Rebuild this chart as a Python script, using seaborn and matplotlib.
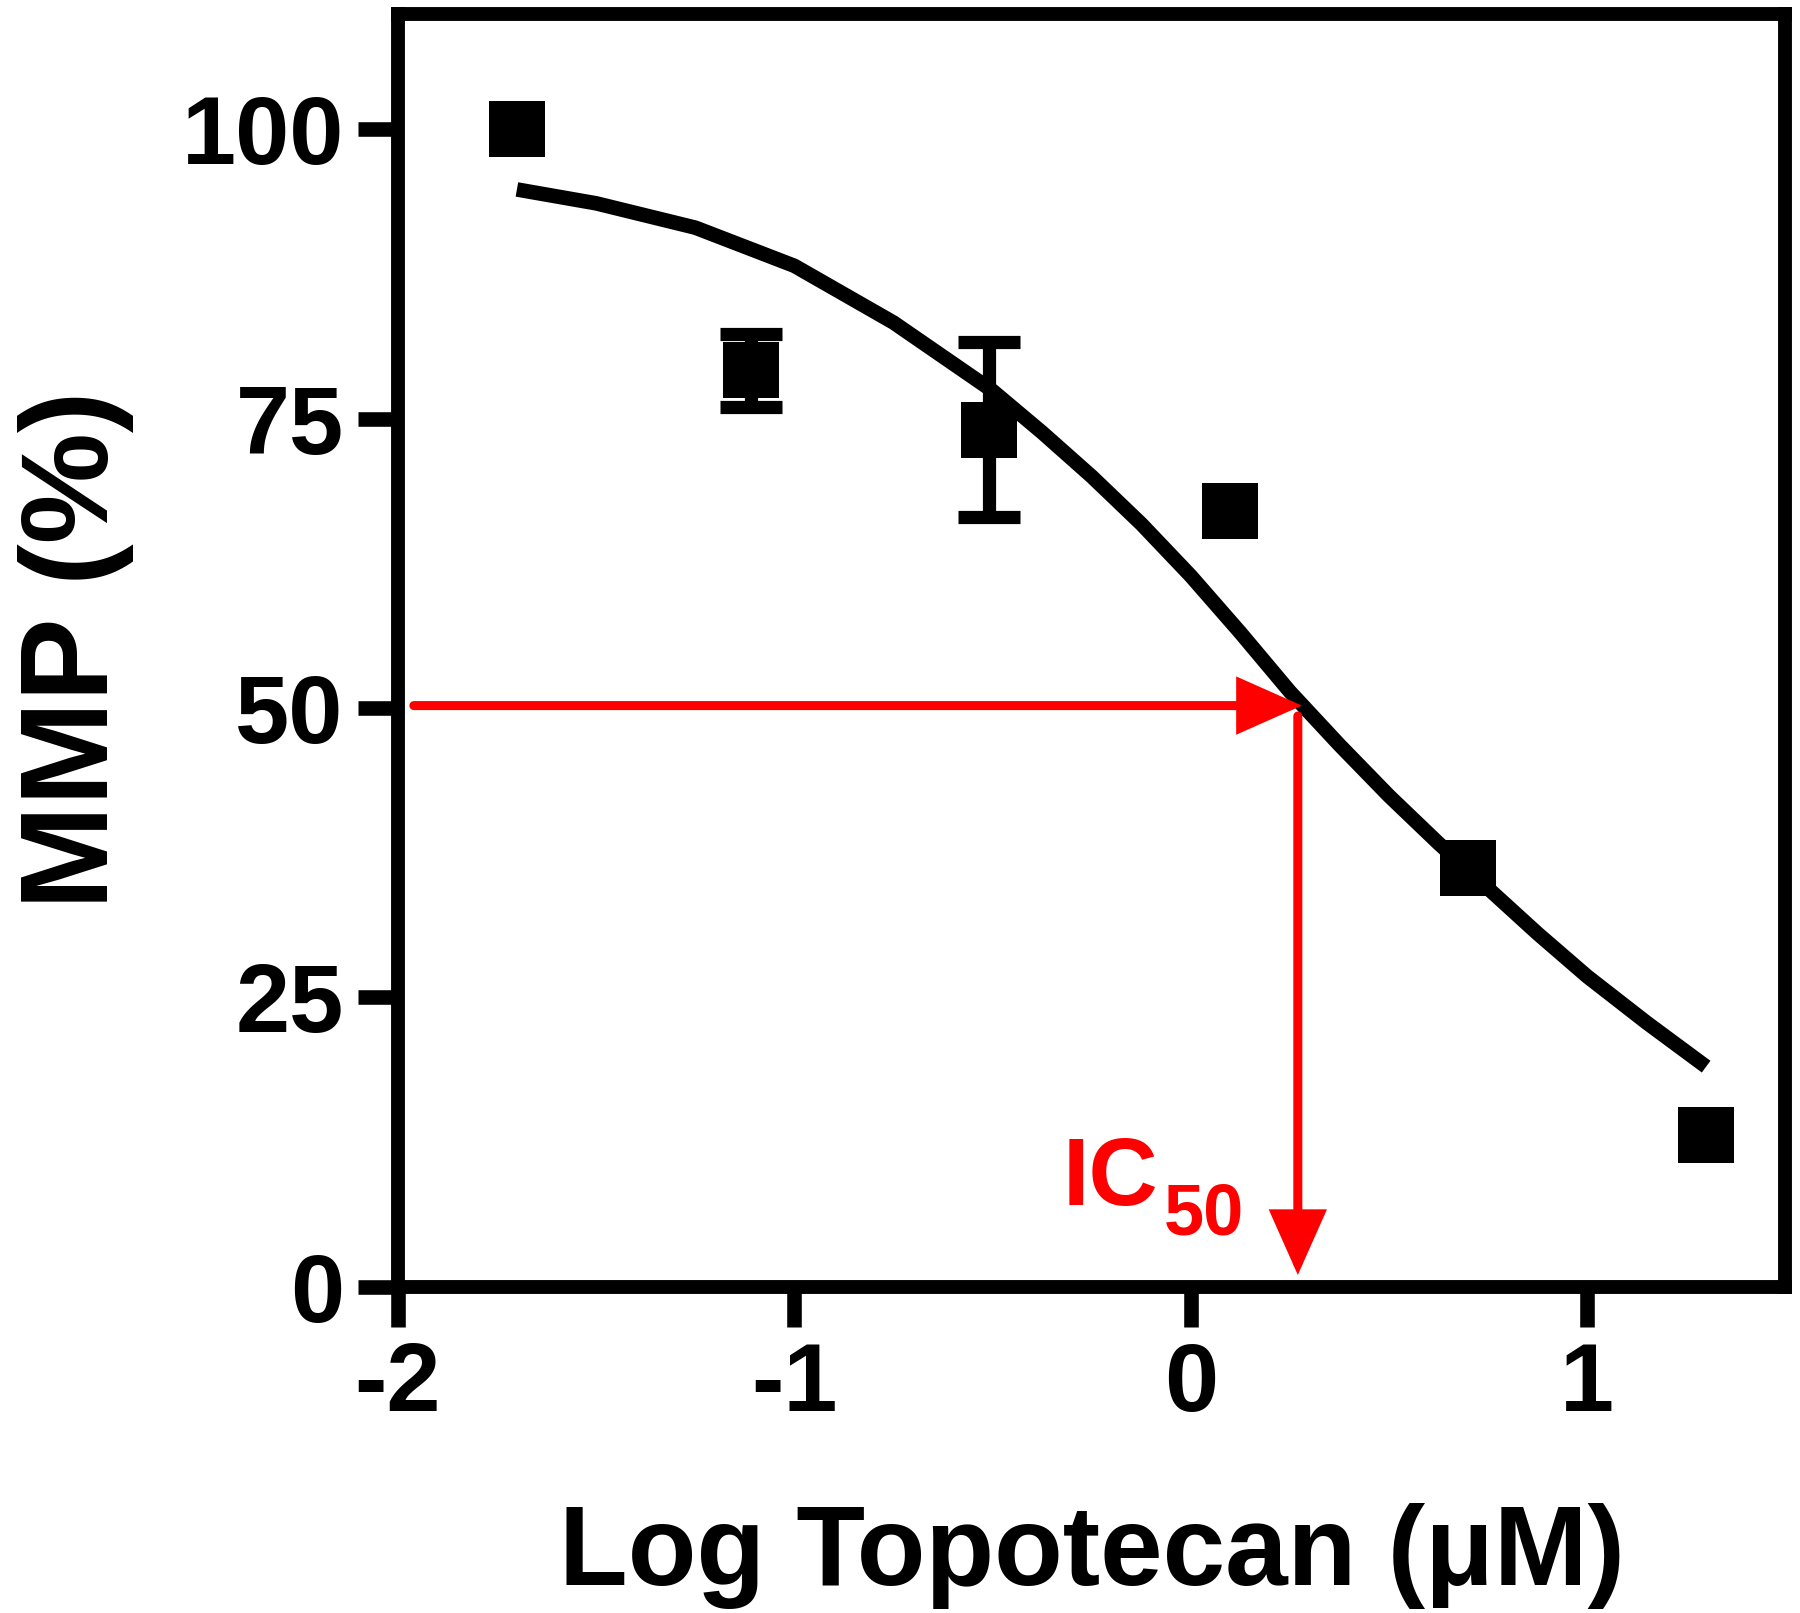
import matplotlib
matplotlib.use("Agg")
import matplotlib.pyplot as plt
import seaborn as sns
import pandas as pd

# measured points (log concentration, % MMP)
log_conc = [-1.70, -1.11, -0.51, 0.10, 0.70, 1.30]
mmp = [100.0, 79.2, 74.0, 67.0, 36.2, 13.1]

# error bars only on two points
err_x = [-1.11, -0.51]
err_y = [79.2, 74.0]
err_lo = [3.2, 7.5]
err_hi = [3.1, 7.6]

# fitted curve
curve_x = [-1.70, -1.50, -1.25, -1.00, -0.75, -0.50, -0.375, -0.25, -0.125, 0.00,
           0.125, 0.25, 0.375, 0.50, 0.625, 0.75, 0.875, 1.00, 1.15, 1.30]
curve_y = [94.8, 93.6, 91.5, 88.2, 83.3, 77.4, 73.8, 70.0, 65.9, 61.4,
           56.5, 51.4, 46.8, 42.4, 38.3, 34.4, 30.5, 26.8, 22.8, 19.0]

ic50_x = 0.27
xticks = [-2, -1, 0, 1]
yticks = [0, 25, 50, 75, 100]

sns.set_style("ticks")
plt.rcParams["font.family"] = ["Liberation Sans", "DejaVu Sans"]
plt.rcParams["font.weight"] = "bold"
plt.rcParams["axes.unicode_minus"] = False
for key in ["text.color", "axes.labelcolor", "xtick.color", "ytick.color", "axes.edgecolor"]:
    plt.rcParams[key] = "black"

fig = plt.figure(figsize=(18, 16.13), dpi=100)
ax = fig.add_axes([0.2211, 0.2024, 0.7708, 0.7892])

pts = pd.DataFrame({"x": log_conc, "y": mmp})
curve = pd.DataFrame({"x": curve_x, "y": curve_y})

ax.errorbar(err_x, err_y, yerr=[err_lo, err_hi], fmt="none", ecolor="black",
            elinewidth=9.5, capsize=22, capthick=9.5, zorder=2)
sns.scatterplot(data=pts, x="x", y="y", marker="s", s=1600, color="black",
                linewidth=0, ax=ax, zorder=3)
sns.lineplot(data=curve, x="x", y="y", sort=False, color="black", linewidth=10.5,
             ax=ax, zorder=4)
ax.lines[-1].set_solid_capstyle("butt")
ax.lines[-1].set_solid_joinstyle("round")

# IC50 arrows
arrow = dict(arrowstyle="-|>,head_length=36,head_width=16", mutation_scale=1,
             lw=6.5, color="red", shrinkA=0, shrinkB=0, joinstyle="miter")
ax.annotate("", xy=(ic50_x + 0.01, 50.2), xytext=(-1.96, 50.2), arrowprops=arrow, zorder=5)
ax.annotate("", xy=(ic50_x, 1.0), xytext=(ic50_x, 49.3), arrowprops=arrow, zorder=5)
ax.text(-0.323, 7.05, "IC", color="red", fontsize=69, fontweight="bold",
        ha="left", va="baseline")
ax.text(-0.068, 4.5, "50", color="red", fontsize=52, fontweight="bold",
        ha="left", va="baseline")

ax.set_xlim(-2, 1.5)
ax.set_ylim(0, 110)
ax.set_xticks(xticks)
ax.set_yticks(yticks)
ax.set_xticklabels([str(t) for t in xticks])
ax.set_yticklabels([str(t) for t in yticks])
ax.tick_params(direction="out", length=29, width=10.5, pad=10, labelsize=70,
               colors="black", top=False, right=False)
for lab in ax.get_xticklabels() + ax.get_yticklabels():
    lab.set_fontweight("bold")

for sp in ax.spines.values():
    sp.set_visible(True)
    sp.set_linewidth(10)
    sp.set_color("black")
    sp.set_capstyle("projecting")

ax.set_xlabel("Log Topotecan (\u03bcM)", fontsize=81, fontweight="bold", color="black")
ax.set_ylabel("MMP (%)", fontsize=90, fontweight="bold", color="black")
ax.xaxis.set_label_coords(0.5, -0.17)
ax.yaxis.set_label_coords(-0.19, 0.5)

fig.savefig("out.png", dpi=100, facecolor="white")
